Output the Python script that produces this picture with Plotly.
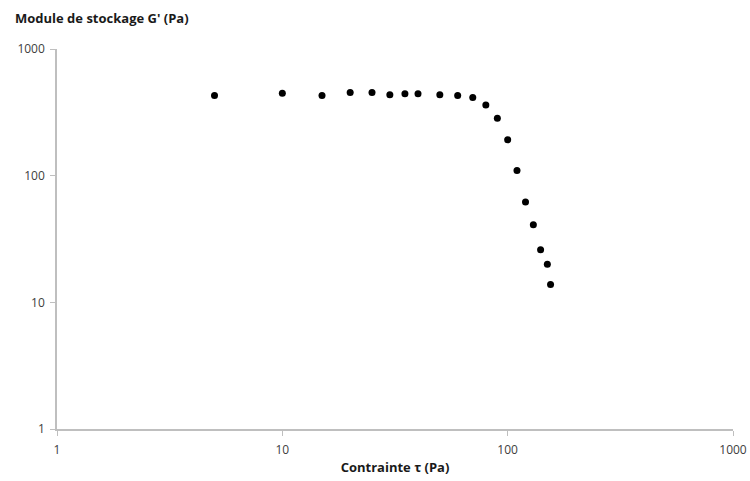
import plotly.graph_objects as go

stress_pa = [5, 10, 15, 20, 25, 30, 35, 40, 50, 60, 70, 80, 90, 100, 110, 120, 130, 140, 150, 155]
storage_modulus_pa = [429, 448, 429, 453, 453, 435, 443, 443, 435, 429, 415, 362, 284, 192, 110, 62, 41, 26, 20, 13.8]

tick_vals = [1, 10, 100, 1000]
tick_text = ["1", "10", "100", "1000"]

W, H = 750, 481
ML, MR, MT, MB = 57, 17, 49, 52

fig = go.Figure()
fig.add_trace(go.Scatter(
    x=stress_pa, y=storage_modulus_pa, mode="markers",
    marker=dict(color="black", size=7, symbol="circle"),
    showlegend=False, cliponaxis=False,
))

axis_common = dict(
    type="log", showgrid=False, zeroline=False,
    showline=True, linecolor="#bfbfbf", linewidth=1.5,
    ticks="outside", tickcolor="#bfbfbf", ticklen=5, tickwidth=1,
    tickvals=tick_vals, ticktext=tick_text,
    tickfont=dict(family="Open Sans", size=12, color="#404040"),
    automargin=False,
)

plot_w = W - ML - MR
plot_h = H - MT - MB

fig.update_layout(
    width=W, height=H,
    margin=dict(l=ML, r=MR, t=MT, b=MB, autoexpand=False),
    paper_bgcolor="white", plot_bgcolor="white",
    xaxis=dict(range=[0, 3], ticklabelstandoff=4, **axis_common,
               title=dict(text="<b>Contrainte τ (Pa)</b>",
                          font=dict(family="Open Sans", size=13, color="#1a1a1a"),
                          standoff=6)),
    yaxis=dict(range=[0, 3], ticklabelstandoff=3, **axis_common),
    annotations=[dict(
        text="<b>Module de stockage G' (Pa)</b>",
        x=(13 - ML) / plot_w, y=((H - 18) - MB) / plot_h,
        xref="paper", yref="paper", showarrow=False,
        font=dict(family="Open Sans", size=13, color="#1a1a1a"),
        xanchor="left", yanchor="middle",
    )],
)

fig.write_html("out.html", config={"displayModeBar": False},
               post_script="document.body.style.margin='0';")
